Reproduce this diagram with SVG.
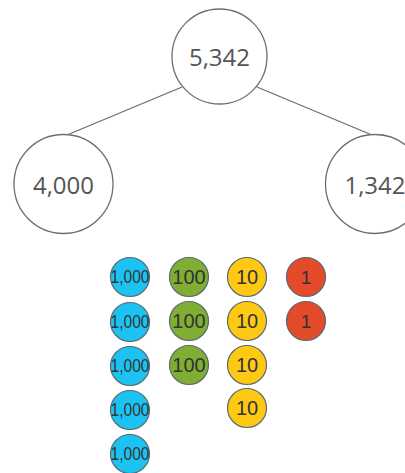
<svg xmlns="http://www.w3.org/2000/svg" width="405" height="473" viewBox="0 0 405 473">
<style>
.big{fill:#fff;stroke:#6e6e6e;stroke-width:1.3}
.bt{font-family:"Open Sans","Liberation Sans",sans-serif;font-size:24px;fill:#555;text-anchor:middle;dominant-baseline:central}
.coin{stroke:#5a6a70;stroke-width:1.2}
.ct{font-family:"Liberation Sans",Arial,sans-serif;fill:#333;text-anchor:middle;dominant-baseline:central}
.th{font-size:18px}
.hu{font-size:20px}
.te{font-size:20px}
.on{font-size:19px}
.b{fill:#1cc3f2}.g{fill:#7fae33}.y{fill:#ffc812}.r{fill:#e34b2b}
</style>
<g id="connectors" stroke="#6e6e6e" stroke-width="1.3" fill="none">
<line x1="182" y1="87" x2="67" y2="135"/>
<line x1="257" y1="87" x2="372" y2="135"/>
</g>
<g id="n5342"><circle class="big" cx="219.5" cy="56.5" r="47.5"/><text class="bt" x="219.5" y="56">5,342</text></g>
<g id="n4000"><circle class="big" cx="63.5" cy="184" r="49.5"/><text class="bt" x="63.5" y="184">4,000</text></g>
<g id="n1342"><circle class="big" cx="375" cy="184" r="49.5"/><text class="bt" x="375" y="184">1,342</text></g>
<g id="thousands">
<circle class="coin b" cx="130" cy="277" r="19.5"/><text class="ct th" x="130" y="277" textLength="39" lengthAdjust="spacingAndGlyphs">1,000</text>
<circle class="coin b" cx="130" cy="322" r="19.5"/><text class="ct th" x="130" y="322" textLength="39" lengthAdjust="spacingAndGlyphs">1,000</text>
<circle class="coin b" cx="130" cy="366" r="19.5"/><text class="ct th" x="130" y="366" textLength="39" lengthAdjust="spacingAndGlyphs">1,000</text>
<circle class="coin b" cx="130" cy="410" r="19.5"/><text class="ct th" x="130" y="410" textLength="39" lengthAdjust="spacingAndGlyphs">1,000</text>
<circle class="coin b" cx="130" cy="454" r="19.5"/><text class="ct th" x="130" y="454" textLength="39" lengthAdjust="spacingAndGlyphs">1,000</text>
</g>
<g id="hundreds">
<circle class="coin g" cx="189" cy="277" r="19.5"/><text class="ct hu" x="189" y="277">100</text>
<circle class="coin g" cx="189" cy="321" r="19.5"/><text class="ct hu" x="189" y="321">100</text>
<circle class="coin g" cx="189" cy="365" r="19.5"/><text class="ct hu" x="189" y="365">100</text>
</g>
<g id="tens">
<circle class="coin y" cx="247" cy="277" r="19.5"/><text class="ct te" x="247" y="277">10</text>
<circle class="coin y" cx="247" cy="321" r="19.5"/><text class="ct te" x="247" y="321">10</text>
<circle class="coin y" cx="247" cy="365" r="19.5"/><text class="ct te" x="247" y="365">10</text>
<circle class="coin y" cx="247" cy="408" r="19.5"/><text class="ct te" x="247" y="408">10</text>
</g>
<g id="ones">
<circle class="coin r" cx="306" cy="277" r="19.5"/><text class="ct on" x="306" y="277">1</text>
<circle class="coin r" cx="306" cy="321" r="19.5"/><text class="ct on" x="306" y="321">1</text>
</g>
</svg>
